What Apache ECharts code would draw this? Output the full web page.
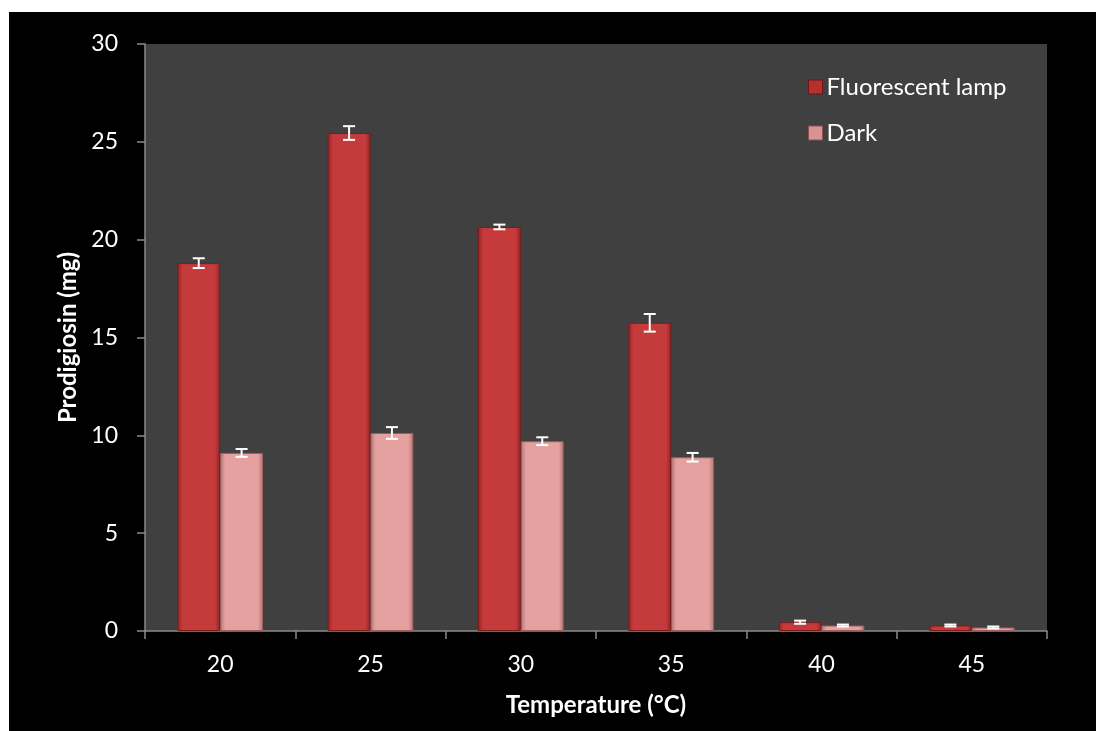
<!DOCTYPE html>
<html>
<head>
<meta charset="utf-8">
<script src="https://cdn.jsdelivr.net/npm/echarts@6/dist/echarts.min.js"></script>
<style>
html,body{margin:0;padding:0;background:#fff;}
#chart{width:1096px;height:731px;}
</style>
</head>
<body>
<div id="chart"></div>
<script>
const categories = ['20', '25', '30', '35', '40', '45'];
const fluorescent = [18.8, 25.45, 20.65, 15.75, 0.45, 0.28];
const fluorescentErr = [0.25, 0.35, 0.12, 0.45, 0.08, 0.05];
const dark = [9.1, 10.12, 9.7, 8.88, 0.28, 0.18];
const darkErr = [0.2, 0.3, 0.2, 0.22, 0.05, 0.05];
const seriesNames = ['Fluorescent lamp', 'Dark'];

const FONT = 'Lato, "Open Sans", sans-serif';
const chart = echarts.init(document.getElementById('chart'), null, {renderer: 'canvas'});

function grad(edge, mid) {
  return new echarts.graphic.LinearGradient(0, 0, 1, 0, [
    {offset: 0, color: edge}, {offset: 0.12, color: mid},
    {offset: 0.88, color: mid}, {offset: 1, color: edge}
  ]);
}
const redFill = grad('#8e2426', '#c53b3c');
const pinkFill = grad('#b97474', '#e4a1a0');

function errSeries(vals, errs, idx) {
  return {
    type: 'custom',
    name: seriesNames[idx] + ' err',
    data: vals.map((v, i) => [i, v - errs[i], v + errs[i]]),
    z: 10,
    silent: true,
    renderItem: function (params, api) {
      const c = api.value(0);
      const lo = api.coord([c, api.value(1)]);
      const hi = api.coord([c, api.value(2)]);
      const band = api.size([1, 0])[0];
      const barW = band * 0.285;
      const x = lo[0] + (idx === 0 ? -barW / 2 : barW / 2);
      const cap = 6;
      const st = {stroke: '#ffffff', lineWidth: 2};
      return {
        type: 'group',
        children: [
          {type: 'line', shape: {x1: x, y1: lo[1], x2: x, y2: hi[1]}, style: st},
          {type: 'line', shape: {x1: x - cap, y1: lo[1], x2: x + cap, y2: lo[1]}, style: st},
          {type: 'line', shape: {x1: x - cap, y1: hi[1], x2: x + cap, y2: hi[1]}, style: st}
        ]
      };
    }
  };
}

chart.setOption({
  backgroundColor: 'transparent',
  animation: false,
  graphic: [{
    type: 'rect', z: -10, silent: true,
    shape: {x: 9, y: 12, width: 1087, height: 719},
    style: {fill: '#000000'}
  }],
  grid: {
    left: 145, top: 44, right: 49, bottom: 100,
    show: true, backgroundColor: '#404040', borderWidth: 0
  },
  legend: {
    orient: 'vertical',
    left: 803, top: 70,
    itemWidth: 14, itemHeight: 14,
    itemGap: 22,
    textStyle: {color: '#ffffff', fontSize: 24, fontFamily: FONT, padding: [0, 0, 0, -1]},
    data: [
      {name: seriesNames[0], icon: 'rect', itemStyle: {color: '#b5302f', borderColor: '#6e1515', borderWidth: 1}},
      {name: seriesNames[1], icon: 'rect', itemStyle: {color: '#d99292', borderColor: '#8c5050', borderWidth: 1}}
    ]
  },
  xAxis: {
    type: 'category',
    data: categories,
    name: 'Temperature (°C)',
    nameLocation: 'middle',
    nameGap: 62,
    nameTextStyle: {color: '#ffffff', fontSize: 24, fontWeight: 'bold', fontFamily: FONT},
    axisLine: {lineStyle: {color: '#8a8a8a', width: 1.5}},
    axisTick: {show: true, alignWithLabel: false, length: 8, lineStyle: {color: '#8a8a8a', width: 1.5}},
    axisLabel: {color: '#ffffff', fontSize: 23, margin: 22, fontFamily: FONT},
    splitLine: {show: false}
  },
  yAxis: {
    type: 'value',
    min: 0, max: 30, interval: 5,
    name: 'Prodigiosin (mg)',
    nameLocation: 'middle',
    nameGap: 61,
    nameRotate: 90,
    nameTextStyle: {color: '#ffffff', fontSize: 24, fontWeight: 'bold', fontFamily: FONT},
    axisLine: {show: true, lineStyle: {color: '#8a8a8a', width: 1.5}},
    axisTick: {show: true, length: 8, lineStyle: {color: '#8a8a8a', width: 1.5}},
    axisLabel: {color: '#ffffff', fontSize: 23, margin: 27, fontFamily: FONT},
    splitLine: {show: false}
  },
  series: [
    {
      name: seriesNames[0], type: 'bar', data: fluorescent,
      barGap: '0%', barCategoryGap: '43%',
      itemStyle: {color: redFill, borderColor: '#7a1c1c', borderWidth: 1},
      z: 3
    },
    {
      name: seriesNames[1], type: 'bar', data: dark,
      barGap: '0%', barCategoryGap: '43%',
      itemStyle: {color: pinkFill, borderColor: '#9c5e5e', borderWidth: 1},
      z: 3
    },
    errSeries(fluorescent, fluorescentErr, 0),
    errSeries(dark, darkErr, 1)
  ]
});
</script>
</body>
</html>
